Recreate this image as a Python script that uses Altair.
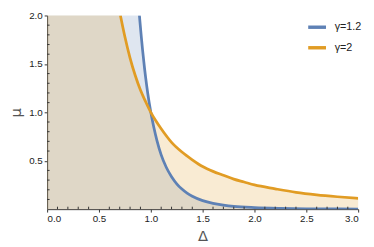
import altair as alt
import pandas as pd

# Curve values (y capped at the plot top, 2.0)
blue_x = [0, 0.89, 0.90, 0.91, 0.92, 0.93, 0.94, 0.95, 0.97, 1.0, 1.03, 1.06, 1.1, 1.15, 1.2, 1.25,
          1.3, 1.35, 1.4, 1.5, 1.6, 1.7, 1.8, 2.0, 2.25, 2.5, 3.0]
blue_y = [2, 2, 1.88, 1.76, 1.65, 1.55, 1.45, 1.36, 1.20, 1.0, 0.84, 0.705, 0.56, 0.43, 0.335, 0.262,
          0.207, 0.165, 0.133, 0.088, 0.060, 0.042, 0.029, 0.016, 0.008, 0.004, 0.001]
orange_x = [0, 0.707, 0.75, 0.8, 0.85, 0.9, 0.95, 1.0, 1.05, 1.1, 1.2, 1.3, 1.4, 1.5, 1.6, 1.7, 1.8,
            1.9, 2.0, 2.2, 2.4, 2.6, 2.8, 3.0]
orange_y = [2, 2, 1.78, 1.56, 1.38, 1.23, 1.11, 1.0, 0.91, 0.83, 0.69, 0.59, 0.51, 0.44, 0.39, 0.35, 0.31,
            0.28, 0.25, 0.21, 0.174, 0.148, 0.128, 0.111]
series = ["γ=1.2", "γ=2"]
colors = ["#5e81b5", "#e19c24"]
x_ticks = [0, 0.5, 1.0, 1.5, 2.0, 2.5, 3.0]
y_ticks = [0.5, 1.0, 1.5, 2.0]
x_minor = [i / 10 for i in range(0, 31) if i % 5 != 0]
y_minor = [i / 10 for i in range(1, 21) if i % 5 != 0]

W, H = 318, 198

rows = []
for x, y in zip(blue_x, blue_y):
    rows.append({"x": x, "y": y, "s": series[0], "line": x > 0})
for x, y in zip(orange_x, orange_y):
    rows.append({"x": x, "y": y, "s": series[1], "line": x > 0})
df = pd.DataFrame(rows)

xs = alt.Scale(domain=[0, 3], nice=False, zero=False)
ys = alt.Scale(domain=[0, 2], nice=False, zero=False)
cs = alt.Scale(domain=series, range=colors)

axis_common = dict(grid=False, labelFont="Liberation Sans", labelFontSize=10,
                   labelColor="#222", domainColor="#333", tickColor="#333",
                   tickSize=3, titleFont="DejaVu Sans", titleFontSize=15,
                   titleColor="#555", titleFontWeight="normal", format=".1f")

legend = alt.Legend(
    title=None, orient="none", legendX=265, legendY=1, symbolType="stroke",
    symbolStrokeWidth=3.5, symbolSize=330, symbolOpacity=1, labelFont="Liberation Sans",
    labelFontSize=11, labelColor="#222", rowPadding=3, padding=0, labelOffset=7)

base = alt.Chart(df)

area = base.mark_area(opacity=0.2, interpolate="monotone").encode(
    x=alt.X("x:Q", scale=xs, axis=alt.Axis(values=x_ticks, title="Δ", titlePadding=5, **axis_common)),
    y=alt.Y("y:Q", scale=ys, stack=None,
            axis=alt.Axis(values=y_ticks, title="μ", titlePadding=5, titleAngle=-90, **axis_common)),
    color=alt.Color("s:N", scale=cs, legend=legend),
    detail="s:N",
)

line = base.transform_filter("datum.line").mark_line(strokeWidth=2.8, interpolate="monotone", clip=True).encode(
    x=alt.X("x:Q", scale=xs),
    y=alt.Y("y:Q", scale=ys),
    color=alt.Color("s:N", scale=cs, legend=legend),
)

xm = alt.Chart(pd.DataFrame({"v": x_minor})).mark_rule(color="#333", strokeWidth=1).encode(
    x=alt.X("v:Q", scale=xs), y=alt.value(H), y2=alt.value(H - 2.5))
ym = alt.Chart(pd.DataFrame({"v": y_minor})).mark_rule(color="#333", strokeWidth=1).encode(
    y=alt.Y("v:Q", scale=ys), x=alt.value(0), x2=alt.value(2.5))

chart = alt.layer(area, line, xm, ym).properties(
    width=W, height=H,
    autosize=alt.AutoSizeParams(type="none"),
    padding={"left": 40, "top": 5, "right": 8, "bottom": 34},
).configure_view(stroke=None)

chart.save("out.html", embed_options={"renderer": "svg", "actions": False})
